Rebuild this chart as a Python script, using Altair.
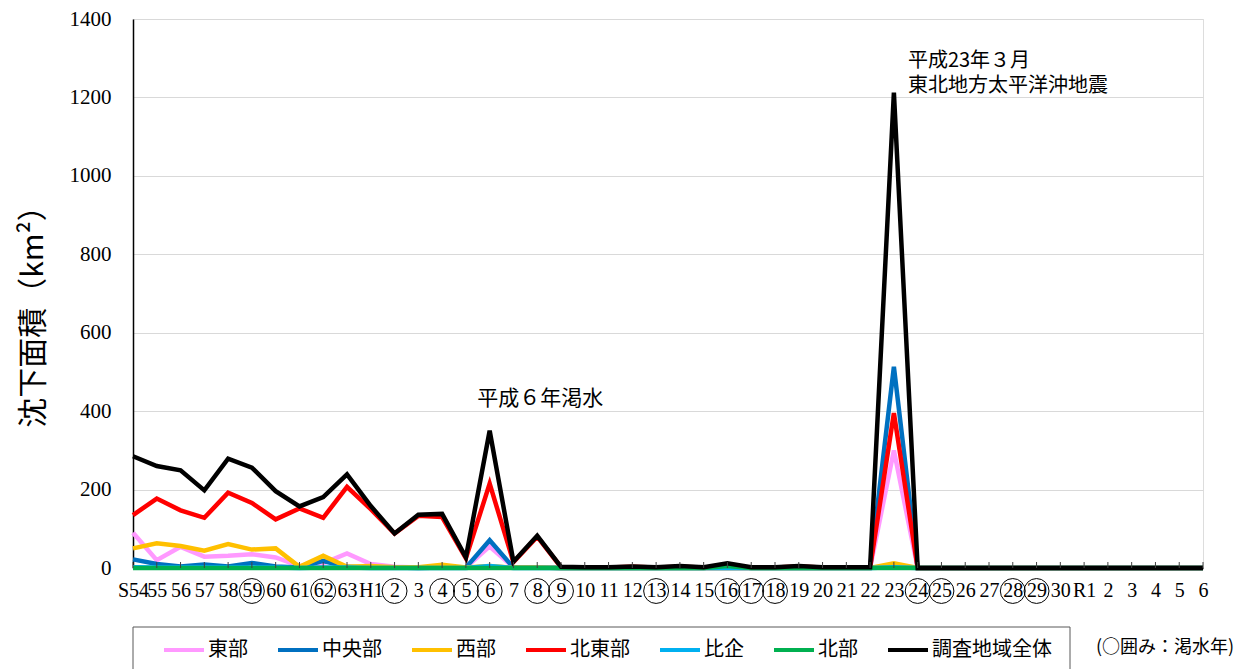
import altair as alt
import pandas as pd

years = ["S54", "S55", "S56", "S57", "S58", "S59", "S60", "S61", "S62", "S63",
         "H1", "H2", "H3", "H4", "H5", "H6", "H7", "H8", "H9", "H10",
         "H11", "H12", "H13", "H14", "H15", "H16", "H17", "H18", "H19", "H20",
         "H21", "H22", "H23", "H24", "H25", "H26", "H27", "H28", "H29", "H30",
         "R1", "R2", "R3", "R4", "R5", "R6"]
circled = ["S59", "S62", "H2", "H4", "H5", "H6", "H8", "H9", "H13", "H16",
           "H17", "H18", "H24", "H25", "H28", "H29"]

series = ["東部", "中央部", "西部", "北東部", "比企", "北部", "調査地域全体"]
colors = ["#FF99FF", "#0070C0", "#FFC000", "#FF0000", "#00B0F0", "#00B050", "#000000"]

east = [90, 20, 54, 29, 31, 35, 27, 5, 12, 37,
        10, 3, 1, 1, 1, 55, 2, 2, 0, 0,
        0, 0, 0, 0, 0, 0, 0, 0, 0, 0,
        0, 0, 300, 0, 0, 0, 0, 0, 0, 0,
        0, 0, 0, 0, 0, 0]
central = [22, 10, 4, 9, 4, 13, 4, 1, 18, 3,
           1, 1, 0, 1, 1, 71, 1, 1, 0, 0,
           0, 0, 0, 0, 0, 0, 0, 0, 0, 0,
           0, 0, 513, 0, 0, 0, 0, 0, 0, 0,
           0, 0, 0, 0, 0, 0]
west = [50, 63, 56, 44, 61, 47, 50, 3, 31, 3,
        5, 2, 2, 8, 1, 5, 1, 1, 0, 0,
        0, 0, 0, 0, 0, 0, 0, 0, 0, 0,
        0, 0, 12, 0, 0, 0, 0, 0, 0, 0,
        0, 0, 0, 0, 0, 0]
northeast = [135, 177, 147, 128, 192, 166, 124, 152, 128, 207,
             150, 88, 133, 130, 25, 215, 15, 80, 2, 1,
             1, 3, 1, 3, 1, 3, 1, 1, 4, 1,
             1, 1, 395, 0, 0, 0, 0, 0, 0, 0,
             0, 0, 0, 0, 0, 0]
hiki = [2, 1, 1, 1, 1, 1, 1, 0, 1, 1,
        0, 0, 0, 0, 0, 5, 0, 0, 0, 0,
        0, 0, 0, 0, 0, 0, 0, 0, 0, 0,
        0, 0, 2, 0, 0, 0, 0, 0, 0, 0,
        0, 0, 0, 0, 0, 0]
north = [0, 0, 0, 0, 0, 0, 0, 0, 0, 0,
         0, 0, 0, 0, 0, 0, 0, 0, 0, 0,
         0, 0, 0, 0, 0, 5, 0, 0, 0, 0,
         0, 0, 0, 0, 0, 0, 0, 0, 0, 0,
         0, 0, 0, 0, 0, 0]
total = [285, 260, 249, 198, 279, 256, 196, 157, 181, 239,
         158, 88, 136, 138, 27, 350, 16, 82, 3, 2,
         2, 4, 2, 5, 2, 12, 2, 2, 5, 2,
         2, 2, 1212, 0, 0, 0, 0, 0, 0, 0,
         0, 0, 0, 0, 0, 0]

all_values = [east, central, west, northeast, hiki, north, total]

rows = []
for s, vals in zip(series, all_values):
    for i, (y, v) in enumerate(zip(years, vals)):
        rows.append({"year": y, "value": v, "series": s, "idx": i})
df = pd.DataFrame(rows)

W, H = 1070, 549
NUMFONT = "Liberation Serif"
JPFONT = "Noto Sans CJK JP"

xscale = alt.Scale(type="point", domain=years, padding=0)
yscale = alt.Scale(domain=[0, 1400], nice=False)

label_expr = ("(datum.value == 'S54' || datum.value == 'H1' || datum.value == 'R1') "
              "? datum.value : substring(datum.value, 1)")

x_axis = alt.Axis(labelExpr=label_expr, labelFont=NUMFONT, labelFontSize=20,
                  labelColor="black", ticks=False, domain=True, domainColor="black",
                  domainWidth=1.5, labelPadding=12, labelAngle=0, labelOverlap=False,
                  title=None, grid=False)
y_axis = alt.Axis(values=list(range(0, 1401, 200)), format="d", labelFont=NUMFONT,
                  labelFontSize=21, labelColor="black", labelPadding=22, ticks=False,
                  domain=True, domainColor="black", domainWidth=1.5,
                  title="沈下面積（km²）", titleFont=JPFONT, titleFontSize=30,
                  titleFontWeight="normal", titleColor="black",
                  titleX=-100, titleY=290, titleAngle=270, titleAlign="center",
                  titleBaseline="middle",
                  grid=True, gridColor="#d9d9d9", gridWidth=1)

lines = alt.Chart(df).mark_line(strokeJoin="miter").encode(
    x=alt.X("year:N", scale=xscale, sort=years, axis=x_axis),
    y=alt.Y("value:Q", scale=yscale, axis=y_axis),
    color=alt.Color("series:N", scale=alt.Scale(domain=series, range=colors),
                    legend=alt.Legend(orient="none", legendX=29, legendY=609,
                                      direction="horizontal", columns=7, title=None,
                                      symbolType="stroke", symbolStrokeWidth=4,
                                      symbolSize=1600, labelFont=JPFONT,
                                      labelFontSize=20, labelColor="black",
                                      columnPadding=22, labelLimit=300,
                                      labelOffset=2)),
    strokeWidth=alt.StrokeWidth("series:N",
                                scale=alt.Scale(domain=series,
                                                range=[4.5, 4.5, 4.5, 4.5, 4.5, 4.5, 5.5]),
                                legend=None),
    order=alt.Order("idx:Q"),
)

tick_df = pd.DataFrame({"year": years})
ticks = alt.Chart(tick_df).mark_rule(color="#404040", strokeWidth=1).encode(
    x=alt.X("year:N", scale=xscale, sort=years),
    y=alt.value(H),
    y2=alt.value(H - 6),
)

circ_df = pd.DataFrame({"year": circled})
circles = alt.Chart(circ_df).mark_point(shape="circle", size=620, filled=False,
                                        color="black", strokeWidth=1, clip=False,
                                        opacity=1).encode(
    x=alt.X("year:N", scale=xscale, sort=years),
    y=alt.value(H + 23),
)

ann1 = alt.Chart(pd.DataFrame({"year": ["H8"], "value": [432], "label": ["平成６年渇水"]})).mark_text(
    font=JPFONT, fontSize=21, color="black", align="center", baseline="middle", dx=3
).encode(x=alt.X("year:N", scale=xscale, sort=years), y=alt.Y("value:Q", scale=yscale),
         text="label:N")

ann2 = alt.Chart(pd.DataFrame({"year": ["H23"], "value": [1318],
                               "label": ["平成23年３月\n東北地方太平洋沖地震"]})).mark_text(
    font=JPFONT, fontSize=20, color="black", align="left", baseline="top",
    lineBreak="\n", lineHeight=25, dx=14
).encode(x=alt.X("year:N", scale=xscale, sort=years), y=alt.Y("value:Q", scale=yscale),
         text="label:N")

box = alt.Chart(pd.DataFrame({"a": [0]})).mark_rect(
    fill=None, stroke="#595959", strokeWidth=1, clip=False
).encode(x=alt.value(0), x2=alt.value(937), y=alt.value(608), y2=alt.value(665))

note = alt.Chart(pd.DataFrame({"t": ["(○囲み：渇水年)"]})).mark_text(
    font=JPFONT, fontSize=18, color="black", align="left", baseline="middle",
    clip=False
).encode(x=alt.value(963), y=alt.value(629), text="t:N")

chart = alt.layer(lines, ticks, circles, ann1, ann2, box, note).resolve_scale(
    strokeWidth="independent"
).properties(
    width=W, height=H, autosize="none",
    padding={"left": 125, "top": 11, "right": 45, "bottom": 110},
).configure_view(stroke="black", strokeWidth=1.5).configure(background="white")

chart.save("out.html", embed_options={"renderer": "svg", "actions": False})
